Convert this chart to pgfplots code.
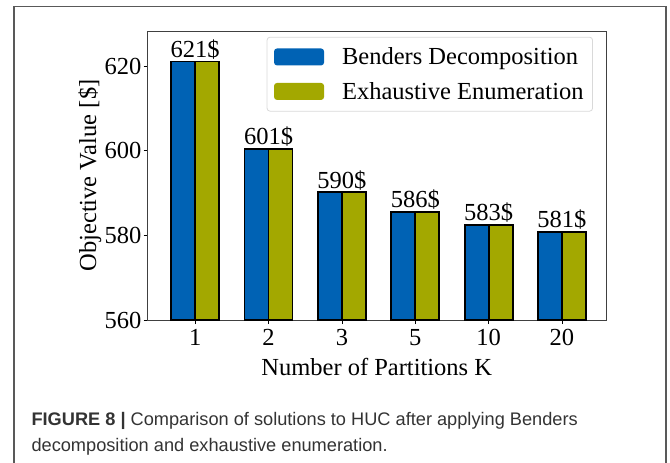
\documentclass[border=0pt]{standalone}
\usepackage{pgfplots}
\pgfplotsset{compat=1.18}
\usepackage{fontspec}
\setmainfont{Liberation Serif}
\newfontfamily\capfont{Liberation Sans}
\definecolor{bdblue}{RGB}{0,98,180}
\definecolor{eeolive}{RGB}{163,168,0}
\newcommand\bigf{\fontsize{24.5}{28}\selectfont}
\begin{document}
\begin{tikzpicture}
\useasboundingbox (0,0) rectangle (670pt,-463pt);
\draw[black!65, line width=1.3pt] (14pt,-463pt) -- (14pt,-6.5pt) -- (666pt,-6.5pt) -- (666pt,-463pt);
\begin{axis}[
  at={(147.5pt,-320pt)}, anchor=south west,
  scale only axis, width=458.5pt, height=289pt,
  ybar, bar width=24pt,
  xmin=-0.65, xmax=5.6, ymin=560, ymax=628.3,
  xtick={0,1,2,3,4,5}, xticklabels={1,2,3,5,10,20},
  ytick={560,580,600,620},
  tick align=outside, tick pos=left, major tick length=4pt,
  tick style={black, line width=0.8pt},
  axis line style={black!75, line width=1pt},
  /pgf/number format/assume math mode=true,
  ticklabel style={font=\bigf},
  yticklabel style={inner sep=2pt},
  xticklabel style={inner sep=2pt, yshift=-3pt},
  label style={font=\bigf},
  xlabel={Number of Partitions K},
  ylabel={Objective Value [\$]},
  xlabel style={inner sep=0pt, yshift=-10pt},
  ylabel style={inner sep=0pt, yshift=1pt},
  legend style={at={(0.9716,0.980)}, anchor=north east, draw=black!15, line width=0.8pt,
    rounded corners=3pt, font=\bigf, inner xsep=7pt, inner ysep=8.5pt,
    row sep=12pt, column sep=16pt},
  legend cell align=left,
  legend image code/.code={\fill[#1, draw=none] (0pt,-8.5pt) rectangle (50pt,8.5pt);},
  nodes near coords style={font=\bigf, inner sep=2pt},
]
\addplot[fill=bdblue, draw=black, line width=1.8pt, bar shift=-12pt] coordinates {
 (0,621.1) (1,600.5) (2,590.2) (3,585.6) (4,582.5) (5,580.8)};
\addlegendentry{Benders Decomposition}
\addplot[fill=eeolive, draw=black, line width=1.8pt, bar shift=12pt] coordinates {
 (0,621.1) (1,600.5) (2,590.2) (3,585.6) (4,582.5) (5,580.8)};
\addlegendentry{Exhaustive Enumeration}
\addplot[draw=none, fill=none, bar shift=0pt, bar width=48pt, nodes near coords, point meta=explicit symbolic, forget plot] coordinates {
 (0,621.1)[621\$] (1,600.5)[601\$] (2,590.2)[590\$] (3,585.6)[586\$] (4,582.5)[583\$] (5,580.8)[581\$]};
\end{axis}
\node[anchor=base west, font=\capfont\fontsize{18.2}{20}\selectfont, text=black!80] at (28pt,-425pt) {\textbf{FIGURE 8 |} Comparison of solutions to HUC after applying Benders};
\node[anchor=base west, font=\capfont\fontsize{18.2}{20}\selectfont, text=black!80] at (28pt,-451.7pt) {decomposition and exhaustive enumeration.};
\end{tikzpicture}
\end{document}
